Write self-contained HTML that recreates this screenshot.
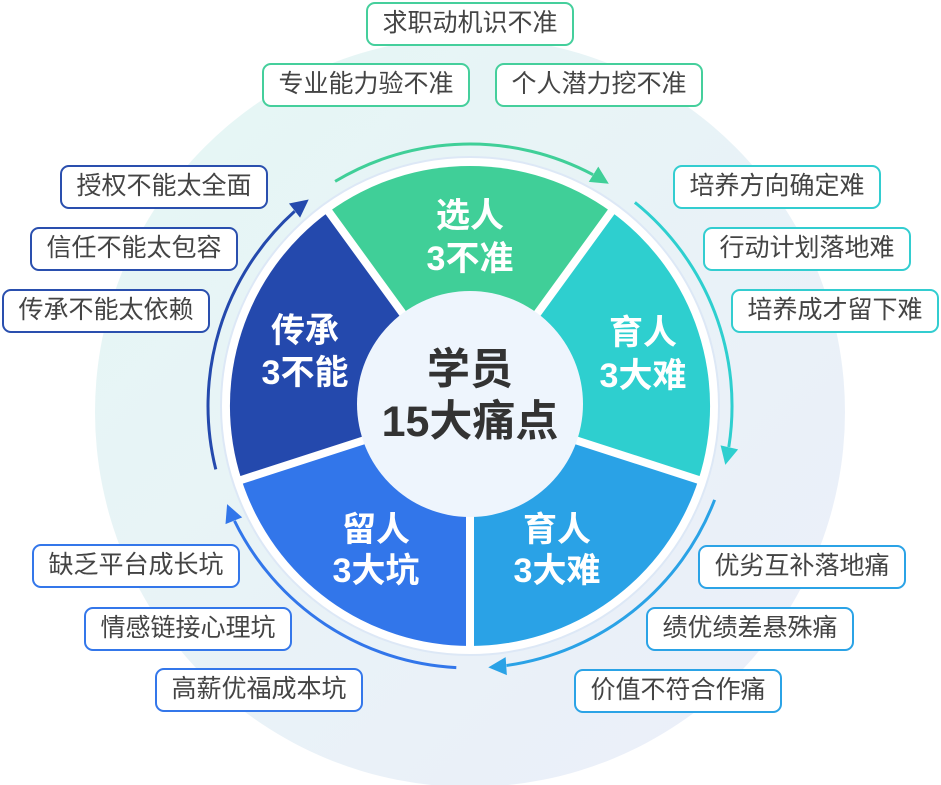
<!DOCTYPE html>
<html><head><meta charset="utf-8"><style>
html,body{margin:0;padding:0;background:#fff;}
body{width:941px;height:785px;overflow:hidden;position:relative;font-family:"Liberation Sans","Noto Sans CJK SC",sans-serif;}
svg{position:absolute;left:0;top:0;}
.b{position:absolute;box-sizing:border-box;height:44px;width:208px;border:2px solid;border-radius:9px;background:#fff;color:#444;font-size:25px;line-height:39px;text-align:center;letter-spacing:0;white-space:nowrap;}
.g{border-color:#45cf9c}.t{border-color:#33cdd0}.n{border-color:#2a4fae}.bl{border-color:#3477ea}.lb{border-color:#2ba3e6}
</style></head><body>
<svg width="941" height="785" viewBox="0 0 941 785">
<defs>
<linearGradient id="bg" x1="0" y1="0" x2="1" y2="1">
<stop offset="0" stop-color="#e5f7f4"/><stop offset="1" stop-color="#eceefa"/>
</linearGradient>
<path id="ar" d="M0,0 L-18,-9 L-18,9 Z"/>
</defs>
<circle cx="470" cy="412" r="375" fill="url(#bg)"/>
<circle cx="470" cy="406" r="249" fill="#fff" stroke="#dde8f6" stroke-width="2"/>
<path d="M470,406 L328.9,211.8 A240,240 0 0 1 611.1,211.8 Z" fill="#40cf98"/>
<path d="M470,406 L611.1,211.8 A240,240 0 0 1 698.3,480.2 Z" fill="#2ecfcf"/>
<path d="M470,406 L698.3,480.2 A240,240 0 0 1 470,646 Z" fill="#2aa2e6"/>
<path d="M470,406 L470,646 A240,240 0 0 1 241.7,480.2 Z" fill="#3276ea"/>
<path d="M470,406 L241.7,480.2 A240,240 0 0 1 328.9,211.8 Z" fill="#2449ad"/>
<g stroke="#fff" stroke-width="8">
<line x1="470" y1="406" x2="326" y2="208"/><line x1="470" y1="406" x2="614" y2="208"/>
<line x1="470" y1="406" x2="702" y2="481"/><line x1="470" y1="406" x2="470" y2="650"/>
<line x1="470" y1="406" x2="238" y2="481"/>
</g>
<circle cx="470" cy="404" r="113" fill="#eef5fd"/>
<g fill="none" stroke-width="3">
<path d="M335.1,181.4 A262,262 0 0 1 593,174.7" stroke="#40cf98"/>
<path d="M634.9,202.4 A262,262 0 0 1 728.8,447" stroke="#2ecfcf"/>
<path d="M714.6,499.9 A262,262 0 0 1 506.5,665.5" stroke="#2aa2e6"/>
<path d="M456.3,667.6 A262,262 0 0 1 234.5,520.9" stroke="#3276ea"/>
<path d="M215.8,469.4 A262,262 0 0 1 294.7,211.3" stroke="#2449ad"/>
</g>
<use href="#ar" transform="translate(608.8,183.8) rotate(32)" fill="#40cf98"/>
<use href="#ar" transform="translate(725.3,464.9) rotate(103)" fill="#2ecfcf"/>
<use href="#ar" transform="translate(488.3,667.4) rotate(176)" fill="#2aa2e6"/>
<use href="#ar" transform="translate(227.1,504.1) rotate(248)" fill="#3276ea"/>
<use href="#ar" transform="translate(308.7,199.5) rotate(322)" fill="#2449ad"/>
<g fill="#fff" font-weight="bold" font-size="34" text-anchor="middle" dominant-baseline="central" font-family="Liberation Sans, Noto Sans CJK SC, sans-serif">
<text x="470" y="216">选人</text><text x="470" y="259">3不准</text>
<text x="643" y="333">育人</text><text x="643" y="376">3大难</text>
<text x="557" y="530">育人</text><text x="557" y="571">3大难</text>
<text x="376" y="530">留人</text><text x="376" y="571">3大坑</text>
<text x="305" y="331">传承</text><text x="305" y="373">3不能</text>
</g>
<g fill="#333" font-weight="bold" font-size="43" text-anchor="middle" dominant-baseline="central" font-family="Liberation Sans, Noto Sans CJK SC, sans-serif">
<text x="470" y="370">学员</text><text x="470" y="422">15大痛点</text>
</g>
</svg>
<div class="b g" style="left:366px;top:2px;">求职动机识不准</div>
<div class="b g" style="left:262px;top:63px;">专业能力验不准</div>
<div class="b g" style="left:495px;top:63px;">个人潜力挖不准</div>
<div class="b t" style="left:673px;top:165px;">培养方向确定难</div>
<div class="b t" style="left:703px;top:227px;">行动计划落地难</div>
<div class="b t" style="left:731px;top:289px;">培养成才留下难</div>
<div class="b n" style="left:60px;top:165px;">授权不能太全面</div>
<div class="b n" style="left:30px;top:227px;">信任不能太包容</div>
<div class="b n" style="left:2px;top:289px;">传承不能太依赖</div>
<div class="b bl" style="left:32px;top:544px;">缺乏平台成长坑</div>
<div class="b bl" style="left:84px;top:607px;">情感链接心理坑</div>
<div class="b bl" style="left:155px;top:668px;">高薪优福成本坑</div>
<div class="b lb" style="left:698px;top:545px;">优劣互补落地痛</div>
<div class="b lb" style="left:646px;top:607px;">绩优绩差悬殊痛</div>
<div class="b lb" style="left:574px;top:669px;">价值不符合作痛</div>
</body></html>
